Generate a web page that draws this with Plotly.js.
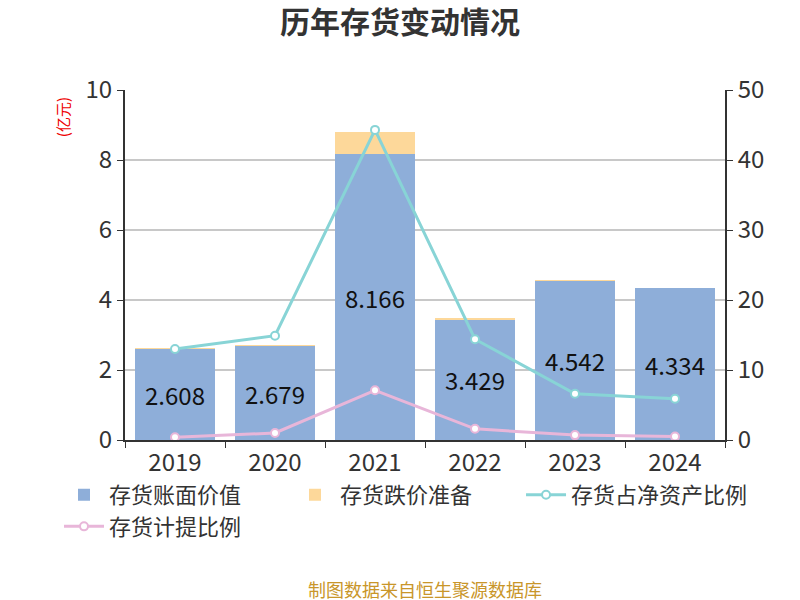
<!DOCTYPE html>
<html>
<head>
<meta charset="utf-8">
<script src="https://cdn.plot.ly/plotly-3.0.1.min.js"></script>
<style>
  html, body { margin: 0; padding: 0; background: #fff; }
  #chart { width: 800px; height: 600px; }
</style>
</head>
<body>
<div id="chart"></div>
<script>
// chart data
let years = ["2019", "2020", "2021", "2022", "2023", "2024"];
let book_value = [2.608, 2.679, 8.166, 3.429, 4.542, 4.334];
let impairment = [0.02, 0.03, 0.63, 0.06, 0.03, 0.02];
let net_asset_ratio = [13.0, 14.9, 44.3, 14.4, 6.6, 5.9];
let provision_ratio = [0.4, 1.0, 7.1, 1.6, 0.7, 0.5];

let font_family = '"Noto Sans CJK SC", "Noto Sans", sans-serif';

function display() {
    /**
     * Draws the inventory chart.
     */

    let root = document.getElementById("chart");

    let data = [
        {
            x: years,
            y: book_value,
            name: "存货账面价值",
            type: "bar",
            marker: {color: "#8eaed9"},
            text: book_value.map(v => v.toFixed(3)),
            textposition: "inside",
            insidetextanchor: "middle",
            textangle: 0,
            textfont: {color: "#111", size: 24},
            hoverinfo: "skip"
        },
        {
            x: years,
            y: impairment,
            name: "存货跌价准备",
            type: "bar",
            marker: {color: "#fdd89a"},
            hoverinfo: "skip"
        },
        {
            x: years,
            y: net_asset_ratio,
            name: "存货占净资产比例",
            type: "scatter",
            mode: "lines+markers",
            yaxis: "y2",
            line: {color: "#88d4d6", width: 3},
            marker: {color: "#fff", size: 8, line: {color: "#88d4d6", width: 2}},
            hoverinfo: "skip"
        },
        {
            x: years,
            y: provision_ratio,
            name: "存货计提比例",
            type: "scatter",
            mode: "lines+markers",
            yaxis: "y2",
            line: {color: "#e8b6d9", width: 3},
            marker: {color: "#fff", size: 8, line: {color: "#e8b6d9", width: 2}},
            hoverinfo: "skip"
        }
    ];

    // shared axis look
    let axis_style = {
        ticks: "outside",
        ticklen: 6,
        tickcolor: "#333",
        showline: true,
        linecolor: "#333",
        linewidth: 2,
        zeroline: false,
        tickfont: {size: 24, color: "#333"},
        fixedrange: true
    };

    let layout = {
        width: 800,
        height: 600,
        barmode: "stack",
        bargap: 0.2,
        paper_bgcolor: "#fff",
        plot_bgcolor: "#fff",
        font: {family: font_family, color: "#333", size: 24},
        margin: {l: 125, r: 75, t: 90, b: 160},
        title: {
            text: "<b>历年存货变动情况</b>",
            font: {size: 30, color: "#333"},
            x: 0.5,
            xanchor: "center",
            y: 0.963,
            yanchor: "middle"
        },
        xaxis: Object.assign({}, axis_style, {
            type: "category",
            tickson: "boundaries",
            showgrid: false
        }),
        yaxis: Object.assign({}, axis_style, {
            range: [0, 10],
            dtick: 2,
            gridcolor: "#c8c8c8",
            gridwidth: 1.5
        }),
        yaxis2: Object.assign({}, axis_style, {
            overlaying: "y",
            side: "right",
            range: [0, 50],
            dtick: 10,
            showgrid: false
        }),
        showlegend: true,
        legend: {
            orientation: "h",
            x: -0.11,
            xanchor: "left",
            y: -0.097,
            yanchor: "top",
            font: {size: 22, color: "#333"},
            traceorder: "normal",
            itemwidth: 40,
            bgcolor: "rgba(0,0,0,0)"
        },
        annotations: [
            {
                text: "(亿元)",
                xref: "paper",
                yref: "paper",
                x: -0.103,
                y: 0.923,
                xanchor: "center",
                yanchor: "middle",
                showarrow: false,
                textangle: -90,
                font: {size: 15, color: "#e00"}
            },
            {
                text: "%",
                xref: "paper",
                yref: "paper",
                x: 1.12,
                y: 0.99,
                xanchor: "left",
                showarrow: false,
                textangle: -90,
                font: {size: 15, color: "#e00"}
            },
            {
                text: "制图数据来自恒生聚源数据库",
                xref: "paper",
                yref: "paper",
                x: 0.5,
                y: -0.4257,
                xanchor: "center",
                yanchor: "middle",
                showarrow: false,
                font: {size: 18, color: "#c9962a"}
            }
        ]
    };

    let config = {
        displayModeBar: false,
        staticPlot: true
    };

    Plotly.newPlot(root, data, layout, config);
}

display();
</script>
</body>
</html>
